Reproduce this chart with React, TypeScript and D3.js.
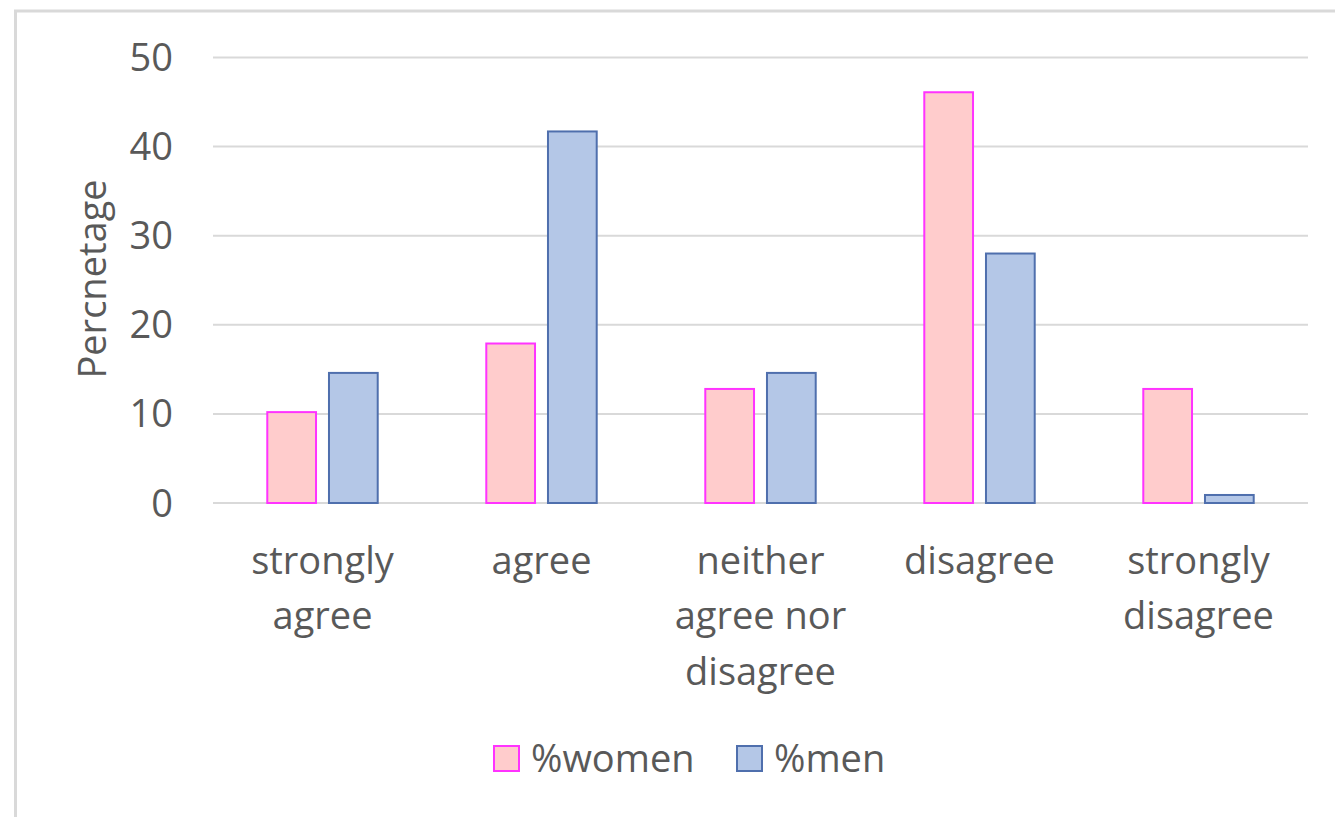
import React from 'react';
import * as d3 from 'd3';

// survey answers (x axis), one label line per array entry
const categories = [
  ['strongly', 'agree'],
  ['agree'],
  ['neither', 'agree nor', 'disagree'],
  ['disagree'],
  ['strongly', 'disagree'],
];
const seriesNames = ['%women', '%men'];
const women = [10.2, 17.9, 12.8, 46.1, 12.8];
const men = [14.6, 41.7, 14.6, 28.0, 0.9];
const yTicks = [0, 10, 20, 30, 40, 50];

const fills = ['#FFCCCC', '#B4C7E7'];
const strokes = ['#FF33FF', '#4F6FAD'];
const textColor = '#595959';
const font = '"Open Sans", sans-serif';

const App = () => {
  const width = 1335;
  const height = 817;
  const plot = { left: 213, right: 1308, top: 57.5, bottom: 503 };

  const keys = categories.map((c) => c.join(' '));
  const values = [women, men];

  const x0 = d3.scaleBand<string>().domain(keys).range([plot.left, plot.right]);
  const x1 = d3
    .scaleBand<string>()
    .domain(seriesNames)
    .range([0, x0.bandwidth()])
    .paddingInner(0.21)
    .paddingOuter(0.88);
  const y = d3.scaleLinear().domain([0, 50]).range([plot.bottom, plot.top]);

  return (
    <svg
      width={width}
      height={height}
      style={{ position: 'absolute', left: 0, top: 0, background: '#fff' }}
    >
      {/* chart frame, cut off at right and bottom */}
      <rect x={15.5} y={11} width={1400} height={900} fill="#fff" stroke="#D9D9D9" strokeWidth={3} />

      {/* gridlines */}
      {yTicks.map((t) => (
        <line
          key={t}
          x1={plot.left}
          x2={plot.right}
          y1={y(t)}
          y2={y(t)}
          stroke="#D9D9D9"
          strokeWidth={2}
        />
      ))}

      {/* y tick labels */}
      {yTicks.map((t) => (
        <text
          key={'l' + t}
          x={173}
          y={y(t) + 13.5}
          textAnchor="end"
          fontFamily={font}
          fontSize={38}
          fill={textColor}
        >
          {t}
        </text>
      ))}

      {/* y axis title */}
      <text
        transform="translate(106,279) rotate(-90)"
        textAnchor="middle"
        fontFamily={font}
        fontSize={38}
        fill={textColor}
      >
        Percnetage
      </text>

      {/* bars */}
      {keys.map((k, i) => (
        <g key={k} transform={`translate(${x0(k)},0)`}>
          {seriesNames.map((s, j) => (
            <rect
              key={s}
              x={x1(s)}
              y={y(values[j][i])}
              width={x1.bandwidth()}
              height={y(0) - y(values[j][i])}
              fill={fills[j]}
              stroke={strokes[j]}
              strokeWidth={2}
            />
          ))}
        </g>
      ))}

      {/* category labels */}
      {categories.map((lines, i) => (
        <text
          key={keys[i]}
          x={(x0(keys[i]) ?? 0) + x0.bandwidth() / 2}
          y={573.5}
          textAnchor="middle"
          fontFamily={font}
          fontSize={38}
          fill={textColor}
        >
          {lines.map((ln, li) => (
            <tspan key={li} x={(x0(keys[i]) ?? 0) + x0.bandwidth() / 2} dy={li === 0 ? 0 : 55.5}>
              {ln}
            </tspan>
          ))}
        </text>
      ))}

      {/* legend */}
      {seriesNames.map((s, j) => {
        const lx = j === 0 ? 494 : 737;
        return (
          <g key={s}>
            <rect x={lx} y={746} width={25} height={25} fill={fills[j]} stroke={strokes[j]} strokeWidth={2} />
            <text x={lx + 37} y={771.5} fontFamily={font} fontSize={38} fill={textColor}>
              {s}
            </text>
          </g>
        );
      })}
    </svg>
  );
};

export default App;
